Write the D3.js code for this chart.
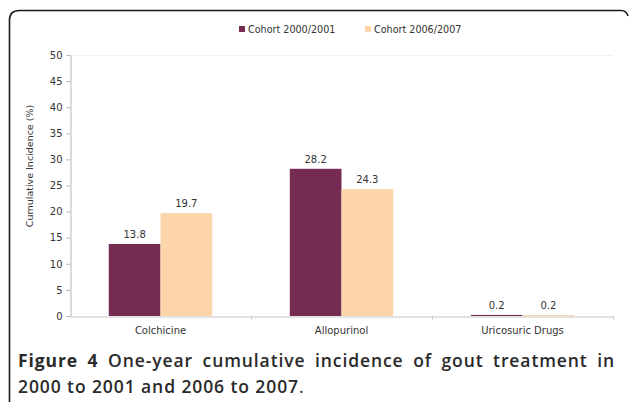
<!DOCTYPE html>
<html>
<head>
<meta charset="utf-8">
<script src="https://cdn.jsdelivr.net/npm/d3@7"></script>
<style>
  html, body { margin: 0; padding: 0; background: #fff; }
  svg { display: block; }
</style>
</head>
<body>
<svg id="chart" width="629" height="402"></svg>
<script>
const categories = ["Colchicine", "Allopurinol", "Uricosuric Drugs"];
const seriesNames = ["Cohort 2000/2001", "Cohort 2006/2007"];
const cohort2000 = [13.8, 28.2, 0.2];
const cohort2006 = [19.7, 24.3, 0.2];
const yTicks = [0, 5, 10, 15, 20, 25, 30, 35, 40, 45, 50];
const seriesColors = ["#762b52", "#fcd5a8"];
const yTitle = "Cumulative Incidence (%)";
const captionBold = "Figure 4";
const captionLine1 = " One-year cumulative incidence of gout treatment in";
const captionLine2 = "2000 to 2001 and 2006 to 2007";

const svg = d3.select("#chart");
const font = "'DejaVu Sans', Verdana, sans-serif";

// frame
svg.append("path")
  .attr("d", "M9.5,402 L9.5,20 Q9.5,10.5 19.5,10.5 L621,10.5 Q626.5,10.5 628,16")
  .attr("fill", "none").attr("stroke", "#1a1a1a").attr("stroke-width", 1.6);

const x0 = d3.scaleBand().domain(categories).range([70, 613]).paddingInner(0).paddingOuter(0);
const x1 = d3.scaleBand().domain(seriesNames).range([0, x0.bandwidth()]).paddingInner(0).paddingOuter(0.75);
const y = d3.scaleLinear().domain([0, 50]).range([316, 55]);

// faint top gridline
svg.append("line").attr("x1", 70).attr("x2", 613).attr("y1", y(50) + 0.5).attr("y2", y(50) + 0.5)
  .attr("stroke", "#f1f1f1");

// bars
const data = categories.map((c, i) => ({ cat: c, vals: [cohort2000[i], cohort2006[i]] }));
const groups = svg.append("g").selectAll("g").data(data).join("g")
  .attr("transform", d => `translate(${x0(d.cat)},0)`);
groups.selectAll("rect").data(d => d.vals.map((v, j) => ({ s: seriesNames[j], v, j })))
  .join("rect")
  .attr("x", d => x1(d.s)).attr("width", x1.bandwidth())
  .attr("y", d => y(d.v)).attr("height", d => y(0) - y(d.v))
  .attr("fill", d => seriesColors[d.j]);
groups.selectAll("text").data(d => d.vals.map((v, j) => ({ s: seriesNames[j], v, j })))
  .join("text")
  .attr("x", d => x1(d.s) + x1.bandwidth() / 2)
  .attr("y", d => y(d.v) - 6)
  .attr("text-anchor", "middle")
  .attr("font-family", font).attr("font-size", 10).attr("fill", "#333")
  .text(d => d.v.toFixed(1));

// y axis
const yAxis = svg.append("g").attr("transform", "translate(70.5,0)")
  .call(d3.axisLeft(y).tickValues(yTicks).tickSize(4).tickPadding(4).tickSizeOuter(0));
yAxis.select(".domain").attr("stroke", "#b5b5b5");
yAxis.selectAll(".tick line").attr("stroke", "#b5b5b5");
yAxis.selectAll("text").attr("font-family", font).attr("font-size", 10).attr("fill", "#333");

// x axis
const xAxis = svg.append("g").attr("transform", "translate(0,316.5)")
  .call(d3.axisBottom(x0).tickSize(0).tickPadding(10).tickSizeOuter(0));
xAxis.select(".domain").attr("stroke", "#c4c4c4");
xAxis.selectAll("text").attr("font-family", font).attr("font-size", 10).attr("fill", "#333");
xAxis.selectAll(".bound").data(categories).join("line").attr("class", "bound")
  .attr("x1", d => Math.round(x0(d) + x0.bandwidth()) + 0.5)
  .attr("x2", d => Math.round(x0(d) + x0.bandwidth()) + 0.5)
  .attr("y1", 0).attr("y2", 3).attr("stroke", "#c4c4c4");

// y title
svg.append("text")
  .attr("transform", "translate(33,166) rotate(-90)")
  .attr("text-anchor", "middle")
  .attr("font-family", font).attr("font-size", 9.5).attr("fill", "#333")
  .text(yTitle);

// legend
const legend = svg.append("g");
const legendX = [239, 365];
seriesNames.forEach((s, i) => {
  legend.append("rect").attr("x", legendX[i]).attr("y", 26).attr("width", 6).attr("height", 6)
    .attr("fill", seriesColors[i]);
  legend.append("text").attr("x", legendX[i] + 9).attr("y", 33)
    .attr("font-family", font).attr("font-size", 9.6).attr("fill", "#333").text(s);
});

// caption
const capFont = "'Open Sans', 'Noto Sans', sans-serif";
const capSize = 17.5;
const cap2 = svg.append("text").attr("x", 18).attr("y", 393)
  .attr("font-family", capFont).attr("font-size", capSize).attr("font-weight", 600).attr("fill", "#2a2a2a");
cap2.append("tspan").text(captionLine2);
const w2 = cap2.node().getComputedTextLength();
const ls = Math.max(0, (281 - w2) / captionLine2.length);
cap2.attr("letter-spacing", ls);
cap2.append("tspan").text(".").attr("font-weight", 400);

const cap1 = svg.append("text").attr("x", 18).attr("y", 367)
  .attr("font-family", capFont).attr("font-size", capSize).attr("font-weight", 600)
  .attr("letter-spacing", ls).attr("fill", "#2a2a2a");
cap1.append("tspan").attr("font-weight", 700).text(captionBold);
cap1.append("tspan").text(captionLine1);
const w = cap1.node().getComputedTextLength();
const target = 615 - 18;
const spaces = (captionBold + captionLine1).split(" ").length - 1;
if (w < target) cap1.attr("word-spacing", (target - w) / spaces);
</script>
</body>
</html>
